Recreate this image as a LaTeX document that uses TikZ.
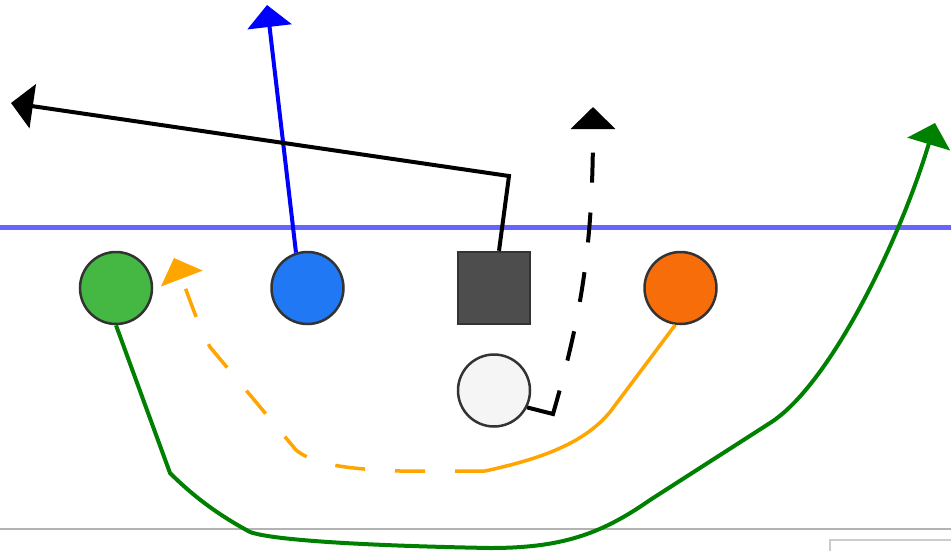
\documentclass[tikz,border=0pt]{standalone}
\usepackage{tikz}
\usetikzlibrary{
  arrows.meta,
  positioning,
}
\definecolor{edgegray}{RGB}{51, 51, 51}
\definecolor{lwrgreen}{RGB}{68, 184, 67}
\definecolor{teblue}{RGB}{32, 120, 244}
\definecolor{ctrgray}{RGB}{77, 77, 77}
\definecolor{rwrorange}{RGB}{247, 109, 10}
\definecolor{qbwhite}{RGB}{245, 245, 245}
\definecolor{losblue}{RGB}{102, 102, 255}
\definecolor{routegreen}{RGB}{0, 128, 0}
\definecolor{routeorange}{RGB}{255, 165, 0}
\definecolor{sidegray}{RGB}{179, 179, 179}
\definecolor{boxgray}{RGB}{204, 204, 204}
\tikzstyle{player} = [
  circle,
  draw=edgegray,
  line width=2.5pt,
  minimum size=72pt,
  inner sep=0pt,
]
\tikzstyle{route} = [
  -{Triangle[length=22pt,width=44pt]},
  line width=4pt,
]
\tikzstyle{dashroute} = [
  route,
  dash pattern=on 30pt off 30pt,
]

\begin{document}
\begin{tikzpicture}[x=1pt,y=-1pt,node distance=28pt and 112pt]
			\useasboundingbox (0,0) rectangle (951,550);

			% lines of the field
			\draw[line width=4.5pt,color=losblue] (0,227.5) -- (951,227.5);
			\draw[line width=2.5pt,color=sidegray] (0,529) -- (951,529);
			\draw[line width=2pt,color=boxgray] (830,540) rectangle (1000,600);

			\node[player,fill=lwrgreen] (lwr) at (116,288) {};
			\node[player,fill=teblue] (te) [right=117pt of lwr] {};
			\node[rectangle,draw=edgegray,line width=2.5pt,minimum size=72pt,inner sep=0pt,fill=ctrgray] (ctr) [right=of te] {};
			\node[player,fill=rwrorange] (rwr) [right=of ctr] {};
			\node[player,fill=qbwhite] (qb) [below=of ctr] {};

			\coordinate (teend) at (267,5);
			\coordinate (ctrend) at (11,103);
			\coordinate (qbend) at (593,107);
			\coordinate (rwrmid) at (485,471);
			\coordinate (rwrend) at (174,258);
			\coordinate (lwrend) at (935,123);

			\draw[route,color=blue] (te.108) -- (teend);
			\draw[route,color=black] ([xshift=5pt]ctr.north) -- (509,176) -- (ctrend);
			\draw[route,dash pattern=on 51pt off 31pt on 30pt off 30pt on 30pt off 30pt on 30pt off 30pt on 30pt off 30pt,color=black] (qb.-27) -- (553,414) .. controls (580,320) and (593,250) .. (qbend);
			\draw[line width=3.5pt,color=routeorange] (rwr.-98) -- (610,412) .. controls (585,442) and (545,458) .. (rwrmid);
			\draw[dashroute,line width=3.5pt,color=routeorange] (rwrmid) -- (400,471) .. controls (340,469) and (312,463) .. (296,450) -- (210,347) .. controls (198,325) and (190,300) .. (rwrend);
			\draw[route,color=routegreen] (lwr.south) -- (170,473) .. controls (200,503) and (228,520) .. (250,532) .. controls (275,541) and (380,546) .. (490,548) .. controls (560,548) and (600,535) .. (650,500) -- (770,423) .. controls (830,385) and (900,240) .. (lwrend);
		\end{tikzpicture}
\end{document}
